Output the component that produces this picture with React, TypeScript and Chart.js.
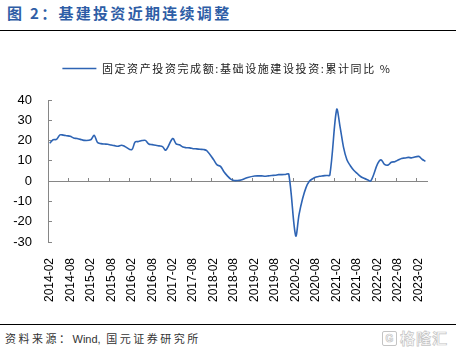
import React, { useEffect, useRef } from 'react';
import { Chart, registerables } from 'chart.js';

Chart.register(...registerables);

// ---------- text ----------
const TITLE = '图 2：基建投资近期连续调整';
const SERIES_NAME = '固定资产投资完成额:基础设施建设投资:累计同比 %';
const SOURCE_A = '资料来源：';
const SOURCE_B = 'Wind,';
const SOURCE_C = ' 国元证券研究所';
const WATERMARK = '格隆汇';

// ---------- categories ----------
const YEARS = [2014, 2015, 2016, 2017, 2018, 2019, 2020, 2021, 2022, 2023];
const MONTHS = ['01', '02', '03', '04', '05', '06', '07', '08', '09', '10', '11', '12'];
const FIRST_CATEGORY = '2014-02';
const LAST_CATEGORY = '2023-04';
const LABEL_EVERY = 6;

// ---------- series values (累计同比, %), January has no release ----------
const v2014 = [18.7, 20.4, 20.6, 22.8, 22.7, 22.4, 22.1, 21.3, 21.0, 20.6, 20.1]; // Feb–Dec
const v2015 = [null, 20.4, 22.6, 19.0, 18.5, 18.3, 18.2, 17.8, 17.5, 17.2, 17.7, 17.1];
const v2016 = [null, 15.5, 19.3, 19.5, 20.0, 20.1, 18.3, 18.0, 17.7, 17.4, 17.0, 15.3];
const v2017 = [null, 21.0, 18.4, 17.9, 16.8, 16.5, 16.4, 16.0, 15.9, 15.7, 15.6, 15.0];
const v2018 = [null, 10.5, 8.0, 7.3, 4.6, 2.6, 1.0, 0.3, 0.3, 0.6, 1.2, 1.8];
const v2019 = [null, 2.5, 2.6, 2.6, 2.4, 2.6, 2.8, 2.9, 3.2, 3.2, 3.3, 3.4];
const v2020 = [null, -26.9, -16.4, -8.8, -3.3, -0.1, 1.2, 2.0, 2.4, 2.6, 2.8, 3.0];
const v2021 = [null, 35.3, 26.8, 16.8, 10.5, 7.6, 5.4, 3.8, 2.3, 1.4, 0.7, 0.1];
const v2022 = [null, 8.6, 10.5, 8.3, 7.9, 9.3, 9.6, 10.4, 11.2, 11.4, 11.7, 11.5];
const v2023 = [null, 12.2, 10.8, 9.8]; // Jan–Apr

const SERIES: (number | null)[] = [
  ...v2014, ...v2015, ...v2016, ...v2017, ...v2018,
  ...v2019, ...v2020, ...v2021, ...v2022, ...v2023,
];

const CATEGORIES = YEARS.flatMap((y) => MONTHS.map((m) => `${y}-${m}`)).filter(
  (c) => c >= FIRST_CATEGORY && c <= LAST_CATEGORY
);

// ---------- axis ----------
const Y_MIN = -30;
const Y_MAX = 40;
const Y_STEP = 10;

// ---------- style ----------
const LINE_COLOR = '#2E64B4';
const AXIS_COLOR = '#868686';
const TITLE_COLOR = '#2E5DA6';
const CJK = '"Noto Sans CJK SC", "Noto Sans", sans-serif';
const LATIN = '"Liberation Sans", Arial, sans-serif';
const LEGEND_SPACING = '1.6px';
const LEGEND_GAP = 16;
const LEGEND_SHIFT = 13;

function ChartCanvas() {
  const ref = useRef<HTMLCanvasElement | null>(null);
  useEffect(() => {
    const canvas = ref.current;
    if (!canvas) return;
    const chart = new Chart(canvas, {
      type: 'line',
      data: {
        labels: CATEGORIES,
        datasets: [
          {
            label: SERIES_NAME,
            data: SERIES,
            borderColor: LINE_COLOR,
            backgroundColor: LINE_COLOR,
            borderWidth: 1.6,
            pointRadius: 0,
            pointHoverRadius: 0,
            tension: 0.35,
            spanGaps: true,
            fill: false,
            xAxisID: 'x',
            yAxisID: 'y',
          },
        ],
      },
      options: {
        responsive: false,
        animation: false,
        devicePixelRatio: 1,
        events: [],
        layout: { padding: { top: 22, right: 28, bottom: 0, left: 0 } },
        plugins: {
          tooltip: { enabled: false },
          title: { display: false },
          legend: {
            display: true,
            position: 'top',
            align: 'center',
            labels: {
              usePointStyle: true,
              pointStyle: 'line',
              pointStyleWidth: 34,
              padding: 10,
              color: '#222222',
              font: { family: CJK, size: 11 },
            },
          },
        },
        scales: {
          x: {
            type: 'category',
            position: 'bottom',
            offset: true,
            border: { display: false },
            grid: { display: false, drawTicks: false, offset: true },
            ticks: {
              autoSkip: false,
              minRotation: 90,
              maxRotation: 90,
              padding: 16,
              color: '#000000',
              font: { family: LATIN, size: 12 },
              callback: (_v: any, i: number) => (i % LABEL_EVERY === 0 ? CATEGORIES[i] : ''),
            },
            afterFit: (s: any) => {
              s.height = 80;
            },
          },
          x2: {
            type: 'category',
            axis: 'x',
            position: { y: 0 },
            offset: true,
            border: { display: true, color: AXIS_COLOR, width: 1 },
            grid: {
              display: true,
              drawOnChartArea: false,
              drawTicks: true,
              tickLength: -4,
              offset: true,
              color: (ctx: any) => (ctx.index % LABEL_EVERY === 0 ? AXIS_COLOR : 'rgba(0,0,0,0)'),
              tickColor: (ctx: any) => (ctx.index % LABEL_EVERY === 0 ? AXIS_COLOR : 'rgba(0,0,0,0)'),
            },
            ticks: { display: false, autoSkip: false },
          },
          y: {
            type: 'linear',
            position: 'left',
            min: Y_MIN,
            max: Y_MAX,
            border: { display: true, color: AXIS_COLOR, width: 1 },
            grid: {
              display: true,
              drawOnChartArea: false,
              drawTicks: true,
              tickLength: -4,
              color: AXIS_COLOR,
            },
            ticks: {
              stepSize: Y_STEP,
              padding: 20,
              color: '#000000',
              font: { family: LATIN, size: 13 },
            },
            afterFit: (s: any) => {
              s.width = 48;
            },
          },
        },
      } as any,
    });

    const lg: any = (chart as any).legend;
    if (lg) {
      const fit0 = lg.fit;
      const draw0 = lg.draw;
      lg.fit = function (this: any) {
        const c = this.ctx;
        c.save();
        c.letterSpacing = LEGEND_SPACING;
        fit0.call(this);
        c.restore();
        this.height += LEGEND_GAP;
        if (Array.isArray(this.lineWidths)) {
          this.lineWidths = this.lineWidths.map((w: number) => w - LEGEND_SHIFT * 2);
        }
      };
      lg.draw = function (this: any, ...args: any[]) {
        const c = this.ctx;
        c.save();
        c.letterSpacing = LEGEND_SPACING;
        draw0.apply(this, args);
        c.restore();
      };
      chart.update();
    }

    return () => chart.destroy();
  }, []);
  return (
    <canvas
      ref={ref}
      width={456}
      height={291}
      style={{ position: 'absolute', left: 0, top: 31, width: 456, height: 291 }}
    />
  );
}

export default function App() {
  return (
    <div
      style={{
        position: 'absolute',
        left: 0,
        top: 0,
        width: 456,
        height: 352,
        background: '#ffffff',
        overflow: 'hidden',
      }}
    >
      <div
        style={{
          position: 'absolute',
          left: 7,
          top: 4,
          fontFamily: CJK,
          fontWeight: 700,
          fontSize: 15,
          lineHeight: '18px',
          letterSpacing: '2.3px',
          color: TITLE_COLOR,
          whiteSpace: 'nowrap',
        }}
      >
        {TITLE}
      </div>
      <div style={{ position: 'absolute', left: 0, top: 30, width: 456, height: 1, background: '#000' }} />
      <ChartCanvas />
      <div style={{ position: 'absolute', left: 0, top: 324, width: 456, height: 1, background: '#000' }} />
      <div
        style={{
          position: 'absolute',
          left: 5,
          top: 332,
          fontFamily: `${LATIN.split(',')[0]}, ${CJK}`,
          fontSize: 11,
          lineHeight: '14px',
          letterSpacing: '2.5px',
          color: '#333333',
          whiteSpace: 'nowrap',
        }}
      >
        {SOURCE_A}
        <span style={{ letterSpacing: '0px', fontSize: 11 }}>{SOURCE_B}</span>
        {SOURCE_C}
      </div>
      <div
        style={{
          position: 'absolute',
          left: 382,
          top: 330,
          fontFamily: CJK,
          fontWeight: 700,
          fontSize: 15,
          lineHeight: '16px',
          color: 'transparent',
          WebkitTextStroke: '0.7px #c4c4c4',
          whiteSpace: 'nowrap',
          display: 'flex',
          alignItems: 'center',
          gap: 3,
        }}
      >
        <span
          style={{
            display: 'inline-block',
            width: 13,
            height: 13,
            border: '1.2px solid #c4c4c4',
            borderRadius: 2,
            fontSize: 10,
            lineHeight: '13px',
            textAlign: 'center',
            fontFamily: LATIN,
          }}
        >
          G
        </span>
        <span style={{ letterSpacing: '1px' }}>{WATERMARK}</span>
      </div>
    </div>
  );
}
